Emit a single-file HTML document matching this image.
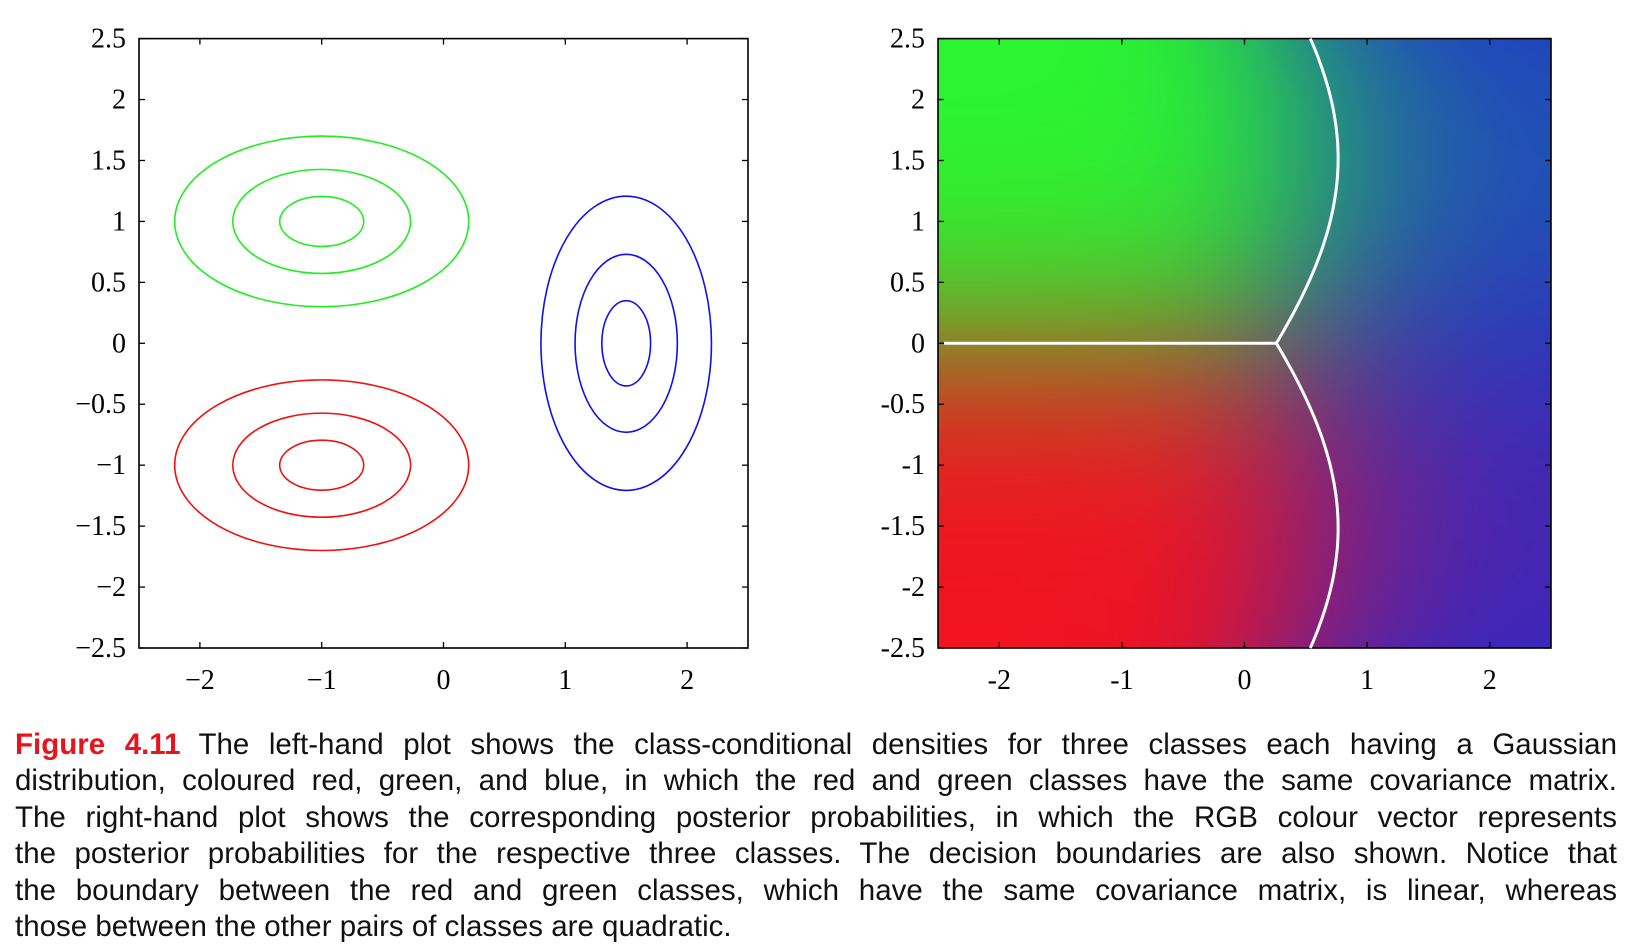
<!DOCTYPE html>
<html><head><meta charset="utf-8"><style>
html,body{margin:0;padding:0;background:#fff;width:1626px;height:948px;overflow:hidden}
svg text{font-family:"Liberation Serif",serif}
#cap{position:absolute;left:15px;top:727px;width:1602px;font-family:"Liberation Sans",sans-serif;font-size:29.5px;line-height:36.4px;color:#111}
#cap div{text-align:justify;text-align-last:justify;white-space:nowrap}
#cap div.last{text-align-last:left}
#cap b{color:#e8141c;margin-right:18px}
#heat{position:absolute;left:938px;top:38.6px;width:613px;height:609.4px}
</style></head><body>
<svg id="plots" width="1626" height="720" style="position:absolute;left:0;top:0"></svg>
<canvas id="heat" width="613" height="609"></canvas>
<svg id="over" width="1626" height="720" style="position:absolute;left:0;top:0"></svg>
<div id="cap">
<div><b>Figure 4.11</b>The left-hand plot shows the class-conditional densities for three classes each having a Gaussian</div>
<div>distribution, coloured red, green, and blue, in which the red and green classes have the same covariance matrix.</div>
<div>The right-hand plot shows the corresponding posterior probabilities, in which the RGB colour vector represents</div>
<div>the posterior probabilities for the respective three classes. The decision boundaries are also shown. Notice that</div>
<div>the boundary between the red and green classes, which have the same covariance matrix, is linear, whereas</div>
<div class="last">those between the other pairs of classes are quadratic.</div>
</div>
<script>
const classNames=['red','green','blue'];
const meansX=[-1,-1,1.5];
const meansY=[-1,1,0];
const sigX=[1.2,1.2,0.7];
const sigY=[0.7,0.7,1.2];
const contourRx=[[1.207,0.73,0.345],[1.207,0.73,0.345],[0.70,0.42,0.20]];
const contourRy=[[0.70,0.427,0.205],[0.70,0.427,0.205],[1.207,0.73,0.35]];
const strokeColors=['#f01010','#20ee20','#1010ee'];
const xTicks=[-2,-1,0,1,2];
const yTicks=[-2.5,-2,-1.5,-1,-0.5,0,0.5,1,1.5,2,2.5];
(function(){
const NS='http://www.w3.org/2000/svg';
function el(parent,tag,attrs){const e=document.createElementNS(NS,tag);for(const k in attrs)e.setAttribute(k,attrs[k]);parent.appendChild(e);return e;}
const T=38.6,B=648,H=B-T;
function mkAxis(L,R){return{x:v=>L+(v+2.5)/5*(R-L),y:v=>B-(v+2.5)/5*H,L,R};}
const A1=mkAxis(139,748),A2=mkAxis(938,1551);
const svg=document.getElementById('plots'),over=document.getElementById('over');
function axes(s,A,minus,pre){
  const g=el(s,'g',{});
  
  
  const r=el(g,'rect',{x:A.L,y:T,width:A.R-A.L,height:H,fill:'none',stroke:'#000','stroke-width':1.6});
  
  
  xTicks.forEach(v=>{const x=A.x(v);
    el(g,'line',{x1:x,x2:x,y1:B,y2:B-6,stroke:'#000','stroke-width':1.3});
    el(g,'line',{x1:x,x2:x,y1:T,y2:T+6,stroke:'#000','stroke-width':1.3});
    const t=el(g,'text',{x:x,y:B+41,'text-anchor':'middle','font-size':28});
    t.textContent=(v<0?minus:'')+Math.abs(v);
    
    });
  yTicks.forEach(v=>{const y=A.y(v);
    el(g,'line',{x1:A.L,x2:A.L+6,y1:y,y2:y,stroke:'#000','stroke-width':1.3});
    el(g,'line',{x1:A.R,x2:A.R-6,y1:y,y2:y,stroke:'#000','stroke-width':1.3});
    const t=el(g,'text',{x:A.L-13,y:y+9,'text-anchor':'end','font-size':28});
    t.textContent=(v<0?minus:'')+Math.abs(v);
    
    });
}
axes(svg,A1,'\u2212','left');
const ux=(A1.R-A1.L)/5,uy=H/5;
classNames.forEach((c,i)=>{contourRx[i].forEach((rx,j)=>{
  const e=el(svg,'ellipse',{cx:A1.x(meansX[i]),cy:A1.y(meansY[i]),rx:rx*ux,ry:contourRy[i][j]*uy,fill:'none',stroke:strokeColors[i],'stroke-width':1.6});
  
  });});
const cv=document.getElementById('heat'),ctx=cv.getContext('2d');
const W=cv.width,Hh=cv.height,img=ctx.createImageData(W,Hh);
const base=[[242,18,32],[42,246,48],[30,42,212]];
const temp=0.55;
function logp(i,x,y){const dx=x-meansX[i],dy=y-meansY[i];return -dx*dx/(2*sigX[i]*sigX[i])-dy*dy/(2*sigY[i]*sigY[i]);}
for(let py=0;py<Hh;py++){const y=2.5-(py+0.5)/Hh*5;
 for(let px=0;px<W;px++){const x=-2.5+(px+0.5)/W*5;
  const l=[0,1,2].map(i=>logp(i,x,y)*temp);const m=Math.max(l[0],l[1],l[2]);const e=l.map(v=>Math.exp(v-m));const s=e[0]+e[1]+e[2];
  const k=(py*W+px)*4;for(let c=0;c<3;c++){img.data[k+c]=(e[0]*base[0][c]+e[1]*base[1][c]+e[2]*base[2][c])/s;}img.data[k+3]=255;}}
ctx.putImageData(img,0,0);
axes(over,A2,'-','right');
function bx(y){const o=y>=0?1:0;let a=-2.5,b=2.5;for(let n=0;n<40;n++){const m=(a+b)/2;if(logp(o,m,y)>logp(2,m,y))a=m;else b=m;}return a;}
let d='';for(let k=0;k<=100;k++){const y=2.5-k*0.05;d+=(k?'L':'M')+A2.x(bx(y)).toFixed(1)+','+A2.y(y).toFixed(1);}
const p1=el(over,'path',{d:d,fill:'none',stroke:'#fff','stroke-width':3});


const p2=el(over,'line',{x1:A2.x(-2.45),x2:A2.x(bx(0)),y1:A2.y(0),y2:A2.y(0),stroke:'#fff','stroke-width':3});


})();
</script>
</body></html>
